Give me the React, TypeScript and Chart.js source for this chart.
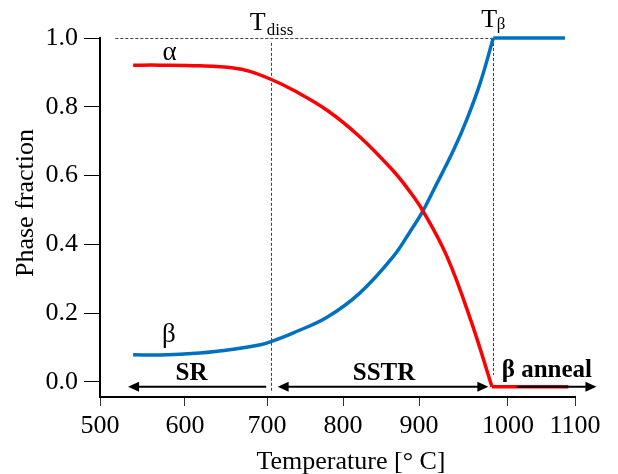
import React, { useEffect, useRef } from 'react';
import { Chart, registerables, LinearScale } from 'chart.js';

// ---- data ----
const X_TICKS = [500, 600, 700, 800, 900, 1000, 1100];
const Y_TICKS = [0, 0.2, 0.4, 0.6, 0.8, 1.0];

const ALPHA_T = [539, 571, 618, 659, 679, 705, 735, 779, 822, 866, 886, 904, 931, 959, 982, 1090];
const ALPHA_F = [0.921, 0.921, 0.919, 0.913, 0.903, 0.88, 0.848, 0.79, 0.713, 0.614, 0.559, 0.499, 0.367, 0.173, -0.014, -0.014];

const BETA_T = [539, 571, 618, 659, 692, 705, 734, 779, 822, 866, 888, 904, 916, 939, 954, 969, 983.5, 1085];
const BETA_F = [0.079, 0.078, 0.084, 0.095, 0.108, 0.117, 0.142, 0.188, 0.258, 0.364, 0.436, 0.495, 0.556, 0.675, 0.765, 0.871, 1.0, 1.0];

const T_DISS = 705;
const T_BETA = 983.5;
const ALPHA_END_T = 982;
const GUIDE_START_T = 518;
const ARROW_LEVEL = -0.014;
const SR_RANGE = [533, 699];
const SSTR_RANGE = [714, 978];
const ANNEAL_RANGE = [1013, 1132];

// axis geometry of the reference (tick marks are not evenly spaced there)
const X_TICK_FRACS = [0, 0.1789, 0.3516, 0.5116, 0.6716, 0.8589, 1];
const Y_MIN = -0.044;

const SERIF = '"Liberation Serif", "Times New Roman", serif';

function valueToFrac(v: number): number {
  const n = X_TICKS.length;
  let i = 0;
  if (v <= X_TICKS[0]) i = 0;
  else if (v >= X_TICKS[n - 1]) i = n - 2;
  else {
    while (i < n - 2 && v > X_TICKS[i + 1]) i++;
  }
  const t = (v - X_TICKS[i]) / (X_TICKS[i + 1] - X_TICKS[i]);
  return X_TICK_FRACS[i] + t * (X_TICK_FRACS[i + 1] - X_TICK_FRACS[i]);
}
function fracToValue(f: number): number {
  const n = X_TICK_FRACS.length;
  let i = 0;
  if (f <= X_TICK_FRACS[0]) i = 0;
  else if (f >= X_TICK_FRACS[n - 1]) i = n - 2;
  else {
    while (i < n - 2 && f > X_TICK_FRACS[i + 1]) i++;
  }
  const t = (f - X_TICK_FRACS[i]) / (X_TICK_FRACS[i + 1] - X_TICK_FRACS[i]);
  return X_TICKS[i] + t * (X_TICKS[i + 1] - X_TICKS[i]);
}

class PiecewiseScale extends LinearScale {
  static id = 'piecewise';
  static defaults = (LinearScale as any).defaults;
  getPixelForValue(value: number) {
    if (value === null || value === undefined || isNaN(value)) return NaN;
    return (this as any).getPixelForDecimal(valueToFrac(value));
  }
  getValueForPixel(pixel: number) {
    return fracToValue((this as any).getDecimalForPixel(pixel));
  }
}

Chart.register(...registerables, PiecewiseScale as any);

function splitAt(ts: number[], fs: number[], tb: number) {
  const curve: { x: number; y: number }[] = [];
  const flat: { x: number; y: number }[] = [];
  ts.forEach((t, i) => {
    if (t <= tb) curve.push({ x: t, y: fs[i] });
    if (t >= tb) flat.push({ x: t, y: fs[i] });
  });
  return { curve, flat };
}

function drawArrow(ctx: CanvasRenderingContext2D, x1: number, x2: number, y: number, headL: boolean, headR: boolean) {
  const hl = 11;
  const hw = 5;
  ctx.beginPath();
  ctx.moveTo(headL ? x1 + hl - 1 : x1, y);
  ctx.lineTo(headR ? x2 - hl + 1 : x2, y);
  ctx.stroke();
  if (headL) {
    ctx.beginPath();
    ctx.moveTo(x1, y);
    ctx.lineTo(x1 + hl, y - hw);
    ctx.lineTo(x1 + hl, y + hw);
    ctx.closePath();
    ctx.fill();
  }
  if (headR) {
    ctx.beginPath();
    ctx.moveTo(x2, y);
    ctx.lineTo(x2 - hl, y - hw);
    ctx.lineTo(x2 - hl, y + hw);
    ctx.closePath();
    ctx.fill();
  }
}

const annotations = {
  id: 'phaseAnnotations',
  beforeDatasetsDraw(chart: any) {
    const { ctx } = chart;
    const xs = chart.scales.x;
    const ys = chart.scales.y;
    ctx.save();
    ctx.strokeStyle = '#404040';
    ctx.lineWidth = 1;
    ctx.setLineDash([3, 2]);
    const y1 = Math.round(ys.getPixelForValue(1.0)) + 0.5;
    ctx.beginPath();
    ctx.moveTo(xs.getPixelForValue(GUIDE_START_T), y1);
    ctx.lineTo(xs.getPixelForValue(T_BETA), y1);
    ctx.stroke();
    const xd = Math.round(xs.getPixelForValue(T_DISS)) + 0.5;
    ctx.beginPath();
    ctx.moveTo(xd, ys.getPixelForValue(0.986));
    ctx.lineTo(xd, ys.getPixelForValue(-0.028));
    ctx.stroke();
    const xb = Math.round(xs.getPixelForValue(T_BETA)) + 0.5;
    ctx.beginPath();
    ctx.moveTo(xb, ys.getPixelForValue(1.0));
    ctx.lineTo(xb, ys.getPixelForValue(0.02));
    ctx.stroke();
    ctx.restore();
  },
  afterDatasetsDraw(chart: any) {
    const { ctx, chartArea } = chart;
    const xs = chart.scales.x;
    const ys = chart.scales.y;
    ctx.save();
    ctx.fillStyle = '#000';
    ctx.strokeStyle = '#000';
    ctx.lineWidth = 2;
    const ay = ys.getPixelForValue(ARROW_LEVEL);
    drawArrow(ctx, xs.getPixelForValue(SR_RANGE[0]), xs.getPixelForValue(SR_RANGE[1]), ay, true, false);
    drawArrow(ctx, xs.getPixelForValue(SSTR_RANGE[0]), xs.getPixelForValue(SSTR_RANGE[1]), ay, true, true);
    drawArrow(ctx, xs.getPixelForValue(ANNEAL_RANGE[0]), xs.getPixelForValue(ANNEAL_RANGE[1]), ay, false, true);

    ctx.textBaseline = 'alphabetic';
    ctx.textAlign = 'center';
    ctx.font = `bold 25px ${SERIF}`;
    ctx.fillText('SR', xs.getPixelForValue(608), ys.getPixelForValue(0.004));
    ctx.fillText('SSTR', xs.getPixelForValue(854), ys.getPixelForValue(0.006));
    ctx.fillText('β anneal', xs.getPixelForValue(1058), ys.getPixelForValue(0.015));

    ctx.font = `27px ${SERIF}`;
    ctx.fillText('α', xs.getPixelForValue(582), ys.getPixelForValue(0.937));
    ctx.fillText('β', xs.getPixelForValue(581), ys.getPixelForValue(0.116));

    ctx.textAlign = 'left';
    const xd = xs.getPixelForValue(T_DISS);
    ctx.font = `26px ${SERIF}`;
    ctx.fillText('T', xd - 21, chartArea.top - 8);
    ctx.font = `17px ${SERIF}`;
    ctx.fillText('diss', xd - 4, chartArea.top - 3);
    const xb = xs.getPixelForValue(T_BETA);
    ctx.font = `26px ${SERIF}`;
    ctx.fillText('T', xb - 12, chartArea.top - 11.5);
    ctx.font = `17px ${SERIF}`;
    ctx.fillText('β', xb + 3.5, chartArea.top - 9);

    // axis titles
    ctx.font = `26px ${SERIF}`;
    ctx.textAlign = 'center';
    ctx.fillText('Temperature [° C]', 351, 469);
    ctx.save();
    ctx.translate(33, 203);
    ctx.rotate(-Math.PI / 2);
    ctx.fillText('Phase fraction', 0, 0);
    ctx.restore();
    ctx.restore();
  },
};

export default function App() {
  const ref = useRef<HTMLCanvasElement | null>(null);
  useEffect(() => {
    if (!ref.current) return;
    const alpha = splitAt(ALPHA_T, ALPHA_F, ALPHA_END_T);
    const beta = splitAt(BETA_T, BETA_F, T_BETA);
    const tickFont = { family: SERIF, size: 26 };
    const common = { pointRadius: 0, borderWidth: 3.5, fill: false, clip: false as any };
    const chart = new Chart(ref.current, {
      type: 'line',
      data: {
        datasets: [
          { ...common, label: 'α', data: alpha.curve, borderColor: '#FF0000', tension: 0.4 },
          { ...common, label: 'α flat', data: alpha.flat, borderColor: '#FF0000', tension: 0 },
          { ...common, label: 'β', data: beta.curve, borderColor: '#0070C0', tension: 0.4 },
          { ...common, label: 'β flat', data: beta.flat, borderColor: '#0070C0', tension: 0 },
        ],
      },
      options: {
        animation: false,
        responsive: false,
        layout: { padding: { top: 38, right: 43, bottom: 0, left: 0 } },
        plugins: { legend: { display: false }, tooltip: { enabled: false } },
        scales: {
          x: {
            type: 'piecewise' as any,
            min: 500,
            max: 1100,
            afterBuildTicks: (s: any) => {
              s.ticks = X_TICKS.map((v) => ({ value: v }));
            },
            afterFit: (s: any) => {
              s.height = 77;
            },
            grid: { drawOnChartArea: false, drawTicks: true, tickLength: 9, color: '#333', lineWidth: 1 },
            border: { display: true, color: '#000', width: 2 },
            ticks: {
              font: tickFont,
              color: '#000',
              padding: 5,
              maxRotation: 0,
              autoSkip: false,
              callback: (v: any) => String(v),
            },
          } as any,
          y: {
            type: 'linear',
            min: Y_MIN,
            max: 1.0,
            afterBuildTicks: (s: any) => {
              s.ticks = Y_TICKS.map((v) => ({ value: v }));
            },
            afterFit: (s: any) => {
              s.width = 100;
            },
            grid: { drawOnChartArea: false, drawTicks: true, tickLength: 16, color: '#000', lineWidth: 1 },
            border: { display: true, color: '#000', width: 2 },
            ticks: {
              font: tickFont,
              color: '#000',
              padding: 6,
              autoSkip: false,
              callback: (v: any) => Number(v).toFixed(1),
            },
          },
        },
      },
      plugins: [annotations],
    });
    return () => chart.destroy();
  }, []);
  return (
    <div style={{ position: 'fixed', left: 0, top: 0, width: 618, height: 474, background: '#fff' }}>
      <canvas ref={ref} width={618} height={474} style={{ width: 618, height: 474, display: 'block' }} />
    </div>
  );
}
